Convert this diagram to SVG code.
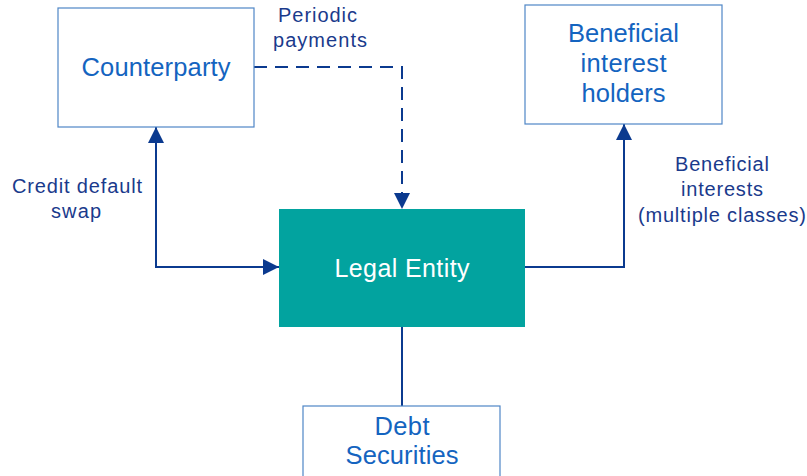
<svg xmlns="http://www.w3.org/2000/svg" width="807" height="476" viewBox="0 0 807 476">
<style>
.box{fill:#ffffff;stroke:#4f86c6;stroke-width:1.2}
.ent{fill:#02a39f}
.nt{font-family:"Liberation Sans",Arial,sans-serif;font-size:25.5px;fill:#1464c0;text-anchor:middle}
.wt{font-family:"Liberation Sans",Arial,sans-serif;font-size:25px;fill:#ffffff;text-anchor:middle}
.lb{font-family:"Liberation Sans",Arial,sans-serif;font-size:20px;fill:#1a3a8c;text-anchor:middle}
.ln{fill:none;stroke:#0b3a8f;stroke-width:2}
</style>
<defs>
<marker id="ah" viewBox="0 0 16 16" refX="16" refY="8" markerWidth="16" markerHeight="16" markerUnits="userSpaceOnUse" orient="auto-start-reverse">
<path d="M0,0 L16,8 L0,16 Z" fill="#0b3a8f"/>
</marker>
</defs>
<g id="connectors">
<path class="ln" d="M254,67 H402 V209" stroke-dasharray="13,8" marker-end="url(#ah)"/>
<path class="ln" d="M156,127 V267 H279" marker-start="url(#ah)" marker-end="url(#ah)"/>
<path class="ln" d="M525,267 H624 V124" marker-end="url(#ah)"/>
<path class="ln" d="M402,327 V406"/>
</g>
<g id="counterparty">
<rect class="box" x="58" y="8" width="196" height="119"/>
<text class="nt" x="156" y="76" textLength="149" lengthAdjust="spacing">Counterparty</text>
</g>
<g id="beneficial-holders">
<rect class="box" x="525" y="5" width="197" height="119"/>
<text class="nt" x="623.5" y="42" textLength="111" lengthAdjust="spacing">Beneficial</text>
<text class="nt" x="623.5" y="72" textLength="86" lengthAdjust="spacing">interest</text>
<text class="nt" x="623.5" y="102" textLength="84" lengthAdjust="spacing">holders</text>
</g>
<g id="legal-entity">
<rect class="ent" x="279" y="209" width="246" height="118"/>
<text class="wt" x="402" y="277" textLength="135" lengthAdjust="spacing">Legal Entity</text>
</g>
<g id="debt-securities">
<rect class="box" x="303" y="406" width="197" height="80"/>
<text class="nt" x="402" y="435" textLength="55" lengthAdjust="spacing">Debt</text>
<text class="nt" x="402" y="464" textLength="113" lengthAdjust="spacing">Securities</text>
</g>
<g id="labels">
<text class="lb" x="317.5" y="22" textLength="79" lengthAdjust="spacing">Periodic</text>
<text class="lb" x="320" y="47" textLength="94" lengthAdjust="spacing">payments</text>
<text class="lb" x="77" y="193" textLength="130" lengthAdjust="spacing">Credit default</text>
<text class="lb" x="76" y="218" textLength="50" lengthAdjust="spacing">swap</text>
<text class="lb" x="722" y="171" textLength="94" lengthAdjust="spacing">Beneficial</text>
<text class="lb" x="722" y="196" textLength="82" lengthAdjust="spacing">interests</text>
<text class="lb" x="722" y="222" textLength="168" lengthAdjust="spacing">(multiple classes)</text>
</g>
</svg>
